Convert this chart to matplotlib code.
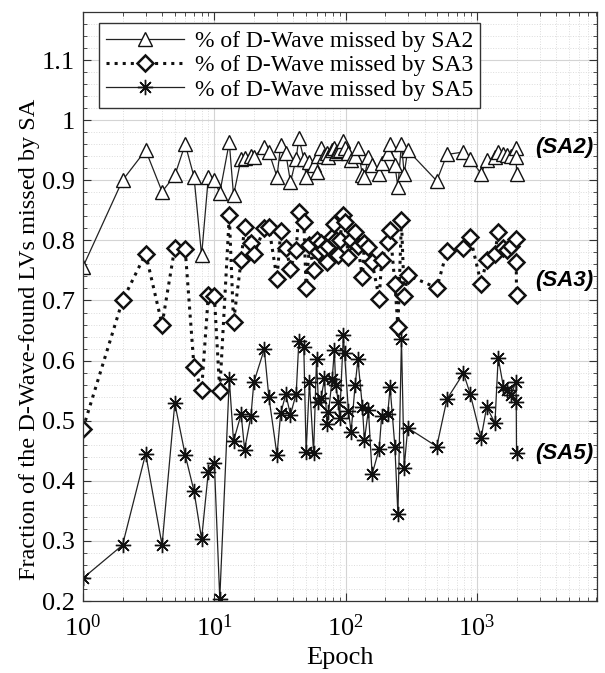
import matplotlib
matplotlib.use("Agg")
import matplotlib.pyplot as plt
from matplotlib.ticker import LogLocator, MultipleLocator, NullFormatter

plt.rcParams['font.family'] = ['Liberation Serif', 'DejaVu Serif']
plt.rcParams['mathtext.fontset'] = 'custom'
plt.rcParams['mathtext.rm'] = 'Liberation Serif'
plt.rcParams['mathtext.it'] = 'Liberation Serif:italic'

epochs = [1, 2, 3, 4, 5, 6, 7, 8, 9, 10, 11,
          13, 14, 16, 17, 19, 20,
          24, 26, 30, 32, 35, 38,
          42, 44, 48, 50, 53, 57,
          60, 62, 65, 69, 72, 74,
          79, 82, 84, 88, 90, 96,
          98, 105, 110, 118, 124, 134,
          139, 149, 159, 180, 188, 209,
          218, 237, 250, 266, 279, 297,
          494, 591, 789, 887, 1075, 1185,
          1370, 1450, 1590, 1700, 1820, 1980,
          1990, 2000]

sa2 = [0.756, 0.900, 0.950, 0.881, 0.908, 0.960, 0.906, 0.775, 0.905, 0.900, 0.879,
       0.963, 0.875, 0.936, 0.937, 0.941, 0.939,
       0.956, 0.947, 0.906, 0.958, 0.945, 0.897,
       0.936, 0.970, 0.936, 0.906, 0.931, 0.925,
       0.914, 0.940, 0.953, 0.940, 0.945, 0.938,
       0.950, 0.954, 0.945, 0.948, 0.950, 0.965,
       0.954, 0.945, 0.933, 0.940, 0.953, 0.909,
       0.906, 0.939, 0.925, 0.911, 0.928, 0.945,
       0.961, 0.925, 0.889, 0.961, 0.911, 0.950,
       0.899, 0.943, 0.947, 0.936, 0.911, 0.933,
       0.939, 0.947, 0.944, 0.942, 0.940, 0.953,
       0.939, 0.911]

sa3 = [0.487, 0.700, 0.778, 0.660, 0.788, 0.785, 0.590, 0.551, 0.709, 0.708, 0.549,
       0.842, 0.664, 0.767, 0.823, 0.795, 0.778,
       0.820, 0.823, 0.736, 0.815, 0.788, 0.753,
       0.784, 0.848, 0.831, 0.720, 0.792, 0.751,
       0.800, 0.780, 0.795, 0.785, 0.764, 0.790,
       0.805, 0.828, 0.800, 0.775, 0.800, 0.842,
       0.830, 0.773, 0.800, 0.814, 0.790, 0.739,
       0.795, 0.789, 0.764, 0.703, 0.767, 0.798,
       0.817, 0.728, 0.656, 0.834, 0.708, 0.742,
       0.721, 0.782, 0.788, 0.806, 0.728, 0.767,
       0.778, 0.814, 0.787, 0.784, 0.790, 0.803,
       0.764, 0.709]

sa5 = [0.238, 0.293, 0.445, 0.293, 0.529, 0.443, 0.383, 0.303, 0.415, 0.430, 0.204,
       0.569, 0.466, 0.511, 0.452, 0.508, 0.564,
       0.619, 0.540, 0.443, 0.512, 0.544, 0.510,
       0.545, 0.632, 0.622, 0.448, 0.564, 0.446,
       0.602, 0.531, 0.537, 0.571, 0.494, 0.514,
       0.570, 0.617, 0.559, 0.531, 0.504, 0.642,
       0.612, 0.516, 0.481, 0.559, 0.602, 0.523,
       0.468, 0.518, 0.411, 0.453, 0.508, 0.511,
       0.556, 0.457, 0.344, 0.636, 0.422, 0.488,
       0.457, 0.536, 0.579, 0.545, 0.471, 0.523,
       0.496, 0.605, 0.556, 0.551, 0.543, 0.565,
       0.531, 0.446]

labels = ['% of D-Wave missed by SA2', '% of D-Wave missed by SA3', '% of D-Wave missed by SA5']
tags = ['(SA2)', '(SA3)', '(SA5)']
y_ticks = [0.2, 0.3, 0.4, 0.5, 0.6, 0.7, 0.8, 0.9, 1.0, 1.1]
y_ticklabels = ['0.2', '0.3', '0.4', '0.5', '0.6', '0.7', '0.8', '0.9', '1', '1.1']

fig = plt.figure(figsize=(6.05, 6.73), dpi=100)
ax = fig.add_axes([83/605, 72/673, (597-83)/605, (601-12)/673])

ax.plot(epochs, sa2, '-', color='#222222', lw=0.9, marker='^', ms=10,
        mfc='white', mec='#111111', mew=1.0, label=labels[0])
ax.plot(epochs, sa3, ':', color='#111111', lw=2.2, marker='D', ms=8.5,
        mfc='white', mec='#111111', mew=1.8, label=labels[1])
ax.plot(epochs, sa5, '-', color='#222222', lw=0.9, marker=(8, 2, 0), ms=11,
        mec='#111111', mew=1.0, label=labels[2])

ax.set_xscale('log')
ax.set_xlim(1, 8200)
ax.set_ylim(0.2, 1.18)
ax.set_yticks(y_ticks)
ax.set_yticklabels(y_ticklabels)
ax.yaxis.set_minor_locator(MultipleLocator(0.02))
ax.xaxis.set_major_locator(LogLocator(base=10, numticks=10))
ax.xaxis.set_minor_locator(LogLocator(base=10, subs=range(2, 10), numticks=20))
ax.xaxis.set_minor_formatter(NullFormatter())

ax.grid(True, which='major', color='#d4d4d4', lw=0.8, ls='-')
ax.grid(True, which='minor', color='#dcdcdc', lw=0.7, ls=':')
ax.set_axisbelow(True)

ax.tick_params(which='both', direction='in', top=True, right=True, labelsize=19,
               color='#333333')
ax.tick_params(which='major', length=6, width=0.8)
ax.tick_params(which='minor', length=3, width=0.6)
ax.tick_params(axis='x', pad=10)
ax.tick_params(axis='y', pad=6)
for s in ax.spines.values():
    s.set_color('#333333')
    s.set_linewidth(0.9)

ax.set_xlabel('Epoch', fontsize=19, labelpad=4)
ax.set_ylabel('Fraction of the D-Wave-found LVs missed by SA', fontsize=17.5)
ax.yaxis.set_label_coords(-0.084, 0.445)

leg = ax.legend(loc='upper left', fontsize=17, frameon=True, fancybox=False,
                edgecolor='#333333', framealpha=1, borderpad=0.3, labelspacing=0.12,
                handlelength=3.3, handletextpad=0.45, borderaxespad=0,
                bbox_to_anchor=(0.031, 0.981))
leg.get_frame().set_linewidth(1.0)

tag_y = [0.955, 0.734, 0.446]
for t, yv in zip(tags, tag_y):
    ax.text(4600, yv, t, fontsize=16, fontweight='bold', fontstyle='italic',
            family=['Liberation Sans', 'DejaVu Sans'], ha='center', va='center')

fig.savefig('out.png', dpi=100, facecolor='white')
